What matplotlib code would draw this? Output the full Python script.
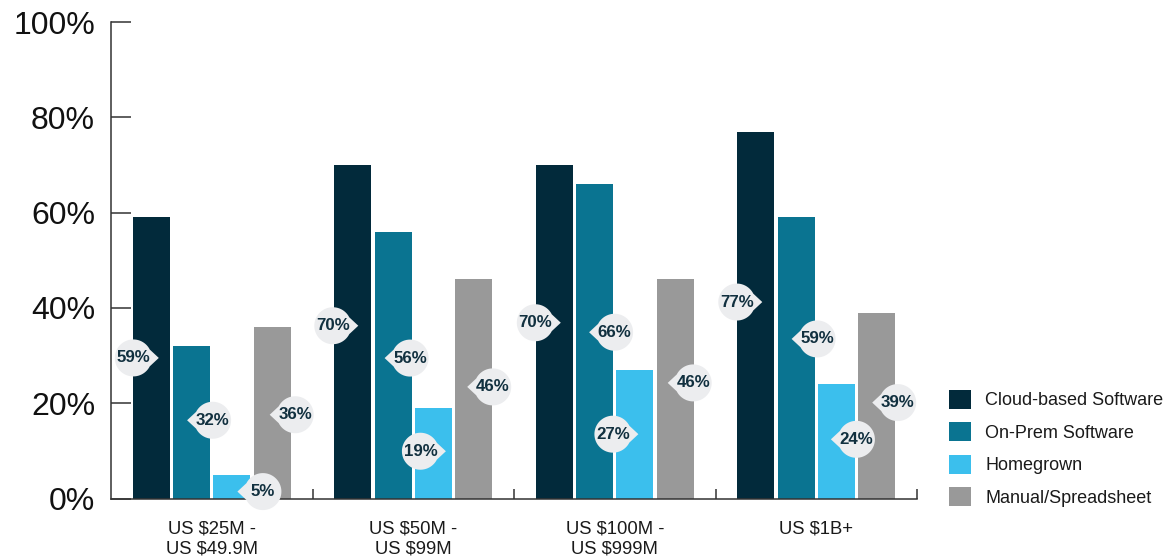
import numpy as np
import matplotlib
matplotlib.use("Agg")
import matplotlib.pyplot as plt
from matplotlib.patches import Patch, Polygon
from matplotlib.transforms import Affine2D, ScaledTranslation
from matplotlib.ticker import FixedLocator, PercentFormatter

# ---- data -------------------------------------------------------------
categories = ["US $25M -\nUS $49.9M", "US $50M -\nUS $99M",
              "US $100M -\nUS $999M", "US $1B+"]
series_names = ["Cloud-based Software", "On-Prem Software",
                "Homegrown", "Manual/Spreadsheet"]
cloud = [59, 70, 70, 77]
on_prem = [32, 56, 66, 59]
homegrown = [5, 19, 27, 24]
manual = [36, 46, 46, 39]
y_ticks = [0, 20, 40, 60, 80, 100]

# ---- styling ----------------------------------------------------------
colors = ["#022A3B", "#0A7491", "#3BBFED", "#999999"]
bubble_face = "#ECEDEF"
bubble_text = "#11303F"
# which side of its bar each value bubble sits on (-1 left, +1 right)
bubble_side = [[-1, 1, 1, 1],
               [-1, 1, -1, 1],
               [-1, 1, -1, 1],
               [-1, 1, 1, 1]]
# small pixel nudges (dx, dy; dy positive = up) to keep bubbles apart
bubble_nudge = [[(3, 0), (0, 2), (10, -5), (2, -2)],
                [(1, 6), (-4, 7), (8, 2), (-2, 2)],
                [(2, 9), (-1, 9), (-1, 0), (-3, 6)],
                [(2, 13), (0, 19), (-1, 2), (0, 3)]]

plt.rcParams["font.family"] = ["Liberation Sans", "DejaVu Sans"]

W, H, DPI = 1169, 560, 100
fig = plt.figure(figsize=(W / DPI, H / DPI), dpi=DPI)
ax_left, ax_right, ax_top, ax_bottom = 111, 917, 22, 498.5
ax = fig.add_axes([ax_left / W, 1 - ax_bottom / H,
                   (ax_right - ax_left) / W, (ax_bottom - ax_top) / H])

series = [cloud, on_prem, homegrown, manual]
x = np.arange(len(categories))
step = 0.2
bar_w = 0.184
for i, (vals, col) in enumerate(zip(series, colors)):
    ax.bar(x + (i - 1.5) * step, vals, width=bar_w, color=col,
           zorder=1, label=series_names[i])

ax.set_xlim(-0.5, len(categories) - 0.5)
ax.set_ylim(0, 100)

# ---- axes -------------------------------------------------------------
for s in ("top", "right"):
    ax.spines[s].set_visible(False)
for s in ("left", "bottom"):
    ax.spines[s].set_color("#333333")
    ax.spines[s].set_linewidth(1.1)

ax.yaxis.set_major_locator(FixedLocator(y_ticks))
ax.yaxis.set_major_formatter(PercentFormatter(decimals=0))
ax.tick_params(axis="y", direction="in", length=14.4, width=1.1,
               color="#333333", pad=11.5, labelsize=23,
               labelcolor="#111111")

ax.set_xticks(x)
ax.set_xticklabels(categories, linespacing=1.28)
ax.set_xticks(list(x + 0.5), minor=True)
ax.tick_params(axis="x", which="major", length=0, pad=15.5,
               labelsize=13.3, labelcolor="#1a1a1a")
ax.tick_params(axis="x", which="minor", direction="in", length=7.2,
               width=1.1, color="#333333")

# ---- value bubbles ------------------------------------------------------
r = 18.5
tip = 25.5
theta0 = np.deg2rad(27)


def bubble_path(direction):
    ang = np.linspace(theta0, 2 * np.pi - theta0, 60)
    pts = np.column_stack([r * np.cos(ang), r * np.sin(ang)])
    pts = np.vstack([pts, [tip, 0.0]])
    pts[:, 0] *= direction
    return pts


for i, vals in enumerate(series):
    for j, v in enumerate(vals):
        xc = x[j] + (i - 1.5) * step
        side = bubble_side[j][i]
        ndx, ndy = bubble_nudge[j][i]
        dx = side * 21 + ndx
        dy = ndy
        trans = Affine2D().translate(dx, dy) + \
            ScaledTranslation(xc, v / 2, ax.transData)
        poly = Polygon(bubble_path(-side), closed=True, transform=trans,
                       facecolor=bubble_face, edgecolor="none",
                       zorder=3, clip_on=False)
        ax.add_patch(poly)
        ax.annotate(f"{v}%", xy=(xc, v / 2),
                    xytext=(dx * 72 / DPI, dy * 72 / DPI),
                    textcoords="offset points", ha="center",
                    va="center", fontsize=12.2, fontweight="bold",
                    color=bubble_text, zorder=4, annotation_clip=False)

# ---- legend -------------------------------------------------------------
fs = 13
fpx = fs * DPI / 72
handles = [Patch(facecolor=c, edgecolor="none") for c in colors]
fig.legend(handles, series_names, loc="upper left",
           bbox_to_anchor=(949 / W, 1 - 390 / H), frameon=False,
           borderpad=0, borderaxespad=0, fontsize=fs,
           handlelength=22 / fpx, handleheight=22 / fpx,
           handletextpad=14 / fpx, labelspacing=0.72,
           labelcolor="#1a1a1a")

fig.savefig("out.png", dpi=DPI)
